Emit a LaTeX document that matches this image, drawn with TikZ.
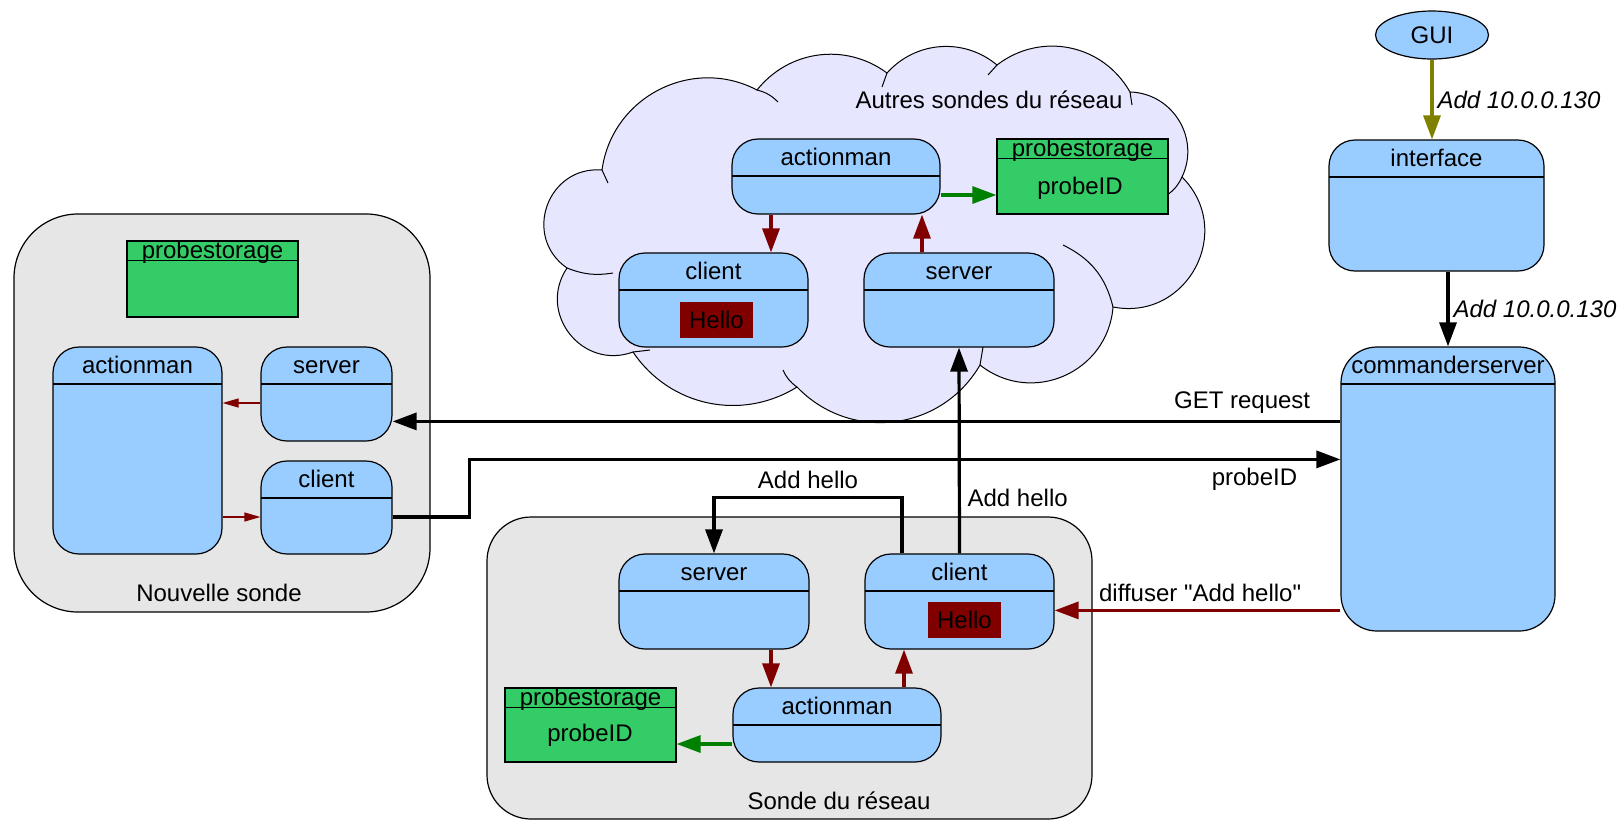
\documentclass[tikz,border=0pt]{standalone}
\usepackage{fontspec}
\setmainfont{Liberation Sans}
\newfontfamily\quotefont{Liberation Sans}
\usetikzlibrary{arrows.meta,positioning,shapes.geometric,calc}
\definecolor{stateblue}{RGB}{153,204,255}
\definecolor{probegreen}{RGB}{51,204,102}
\definecolor{hellored}{RGB}{128,0,0}
\definecolor{flowgreen}{RGB}{0,128,0}
\definecolor{guiolive}{RGB}{128,128,0}
\definecolor{probegrey}{RGB}{230,230,230}
\definecolor{cloudfill}{RGB}{230,230,255}

\begin{document}
\begin{tikzpicture}[x=0.5pt,y=-0.5pt,
  font=\fontsize{12}{14}\selectfont,
  state/.style={draw,fill=stateblue,rounded corners=13pt,line width=0.6pt,inner sep=0pt,
    path picture={
      \draw[line width=0.6pt] ([yshift=-18.5pt]path picture bounding box.north west) -- ([yshift=-18.5pt]path picture bounding box.north east);
      \node[text height=1.5ex,text depth=.25ex] at ([yshift=-10pt]path picture bounding box.north) {#1};}},
  storage/.style={draw,fill=probegreen,line width=0.6pt,inner sep=0pt,
    path picture={
      \draw[line width=0.6pt] ([yshift=-9.75pt]path picture bounding box.north west) -- ([yshift=-9.75pt]path picture bounding box.north east);
      \node[text height=1.5ex,text depth=.25ex] at ([yshift=-5.3pt]path picture bounding box.north) {#1};}},
  container/.style={draw,fill=probegrey,line width=0.6pt,rounded corners=#1,inner sep=0pt},
  hello/.style={fill=hellored,minimum width=36.5pt,minimum height=18pt,inner sep=0pt},
  cloudline/.style={draw,line width=0.5pt},
  flow/.style={-{Triangle[length=12pt,width=8.5pt]},line width=1.6pt},
  thinflow/.style={-{Triangle[length=8pt,width=4.5pt]},line width=0.6pt,draw=hellored}]
  \useasboundingbox (0,0) rectangle (1622,826);
  % Nouvelle sonde
  \node[container=32pt,minimum width=208pt,minimum height=199pt] (nouv) at (222,413) {};
  \node (nouvlbl) at (219,593) {Nouvelle sonde};
  \node[storage=probestorage,minimum width=85.5pt,minimum height=38pt] (ps0) at (212.5,279) {};
  \node[state=actionman,minimum width=84.5pt,minimum height=103.5pt] (am0) at (137.5,450.5) {};
  \node[state=server,minimum width=65.5pt,minimum height=47pt] (sv0) at (326.5,394) {};
  \node[state=client,minimum width=65.5pt,minimum height=46.5pt] (cl0) at (326.5,507.5) {};
  \draw[thinflow] ([yshift=-4.5pt]sv0.west) -- (am0.east |- 0,403);
  \draw[thinflow] (am0.east |- 0,517) -- ([yshift=-4.75pt]cl0.west);
  % Autres sondes (cloud)
  \draw[cloudline,fill=cloudfill] (602,170) to[bend left=55,looseness=1.08] (757,90)
    to[bend left=44] (887,73)
    to[bend left=44] (997,65)
    to[bend left=49,looseness=1.04] (1130,92)
    to[bend left=57,looseness=1.1] (1182,177)
    to[bend left=73,looseness=1.32] (1113,307)
    to[bend left=62,looseness=1.16] (980,365)
    to[bend left=53,looseness=1.07] (797,387)
    to[bend left=44] (633,352)
    to[bend left=72,looseness=1.3] (567,268)
    to[bend left=75,looseness=1.35] (602,170) -- cycle;
  \draw[cloudline] (602,170) -- (608,183);
  \draw[cloudline] (757,90) to[bend left=15] (778,102);
  \draw[cloudline] (887,73) -- (882,87);
  \draw[cloudline] (997,65) -- (988,75);
  \draw[cloudline] (1130,92) -- (1132,105);
  \draw[cloudline] (1182,177) to[bend left=15] (1167,195);
  \draw[cloudline] (1063,245) to[bend left=25] (1113,307);
  \draw[cloudline] (980,365) -- (983,347);
  \draw[cloudline] (797,387) to[bend left=15] (783,370);
  \draw[cloudline] (633,352) -- (650,350);
  \draw[cloudline] (567,268) to[bend right=15] (613,273);
  \node (autres) at (989,100) {Autres sondes du réseau};
  \node[state=actionman,minimum width=104pt,minimum height=37.5pt] (am1) at (836,176.5) {};
  \node[storage=probestorage,minimum width=85.5pt,minimum height=37.5pt] (ps1) at (1082.5,176.5) {};
  \node (pid1) at (1080,188) {probeID};
  \node[state=client,minimum width=94.5pt,minimum height=47pt] (cl1) at (713.5,300) {};
  \node[hello] (hello1) at (716.5,320) {Hello};
  \node[state=server,minimum width=95pt,minimum height=47pt] (sv1) at (959,300) {};
  \draw[flow,draw=hellored] (am1.south -| 771,0) -- (cl1.north -| 771,0);
  \draw[flow,draw=hellored] (sv1.north -| 922,0) -- (am1.south -| 922,0);
  \draw[flow,draw=flowgreen] (am1.east |- 0,195) -- (ps1.west |- 0,195);
  % Sonde du reseau
  \node[container=22pt,minimum width=302.5pt,minimum height=151pt] (sonde) at (789.5,668) {};
  \node (sondelbl) at (839,801) {Sonde du réseau};
  \node[state=server,minimum width=95pt,minimum height=47.5pt] (sv2) at (714,601.5) {};
  \node[state=client,minimum width=94.5pt,minimum height=47.5pt] (cl2) at (959.5,601.5) {};
  \node[hello] (hello2) at (964.5,620) {Hello};
  \node[state=actionman,minimum width=104pt,minimum height=37pt] (am2) at (837,725) {};
  \node[storage=probestorage,minimum width=85.5pt,minimum height=37pt] (ps2) at (590.5,725) {};
  \node (pid2) at (590,735) {probeID};
  \draw[flow,draw=hellored] (sv2.south -| 771,0) -- (am2.north -| 771,0);
  \draw[flow,draw=hellored] (am2.north -| 904,0) -- (cl2.south -| 904,0);
  \draw[flow,draw=flowgreen] (am2.west |- 0,744) -- (ps2.east |- 0,744);
  % GUI, interface, commanderserver
  \node[draw,ellipse,fill=stateblue,line width=0.6pt,minimum width=56.5pt,minimum height=24pt,inner sep=0pt] (gui) at (1432,35) {GUI};
  \node[state=interface,minimum width=107.5pt,minimum height=65.5pt] (if) at (1436.5,205.5) {};
  \node[state=commanderserver,rounded corners=18pt,minimum width=107pt,minimum height=142pt] (cs) at (1448,489) {};
  \draw[flow,draw=guiolive] (gui.south) -- node[right,inner sep=2pt,font=\fontsize{12}{14}\selectfont\itshape] {Add 10.0.0.130} (gui.south |- if.north);
  \draw[flow] (if.south -| cs.north) -- node[right,inner sep=2pt,font=\fontsize{12}{14}\selectfont\itshape] {Add 10.0.0.130} (cs.north);
  % messages
  \coordinate (getR) at ([yshift=-37.5pt]cs.north west);
  \coordinate (pidR) at ([yshift=-56.5pt]cs.north west);
  \coordinate (difR) at ([yshift=-132pt]cs.north west);
  \draw[flow] (getR) -- node[pos=0,anchor=south east,xshift=-11pt] {GET request} (getR -| sv0.east);
  \draw[flow] ([yshift=-4.75pt]cl0.east) -- ++(77,0) |- (pidR) node[anchor=north east,xshift=-17.5pt] {probeID};
  \draw[flow,draw=hellored] (difR) -- node[pos=0,anchor=south east,xshift=-15.5pt,font=\fontsize{12}{14}\quotefont] {diffuser "Add hello"} (difR -| cl2.east);
  \draw[flow] (cl2.north) -- node[pos=0.27,right] {Add hello} (sv1.south);
  \draw[flow] ([xshift=-28.75pt]cl2.north) -- ++(0,-56) -| node[pos=0.25,above] {Add hello} (sv2.north);
\end{tikzpicture}
\end{document}
